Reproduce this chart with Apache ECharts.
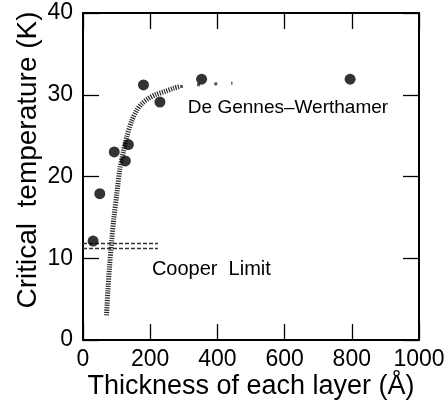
<!DOCTYPE html>
<html>
<head>
<meta charset="utf-8">
<script src="https://cdn.jsdelivr.net/npm/echarts@6/dist/echarts.min.js"></script>
<style>
  html, body { margin: 0; padding: 0; background: #fff; }
  #chart { width: 445px; height: 410px; }
</style>
</head>
<body>
<div id="chart"></div>
<script>
// measured points (thickness in Å, Tc in K)
const pointX = [30, 50, 93, 126, 135, 180, 229, 353, 795];
const pointY = [12.1, 17.9, 23.0, 21.9, 23.9, 31.2, 29.1, 31.9, 31.9];

// De Gennes-Werthamer curve (dense part)
const dgwX = [70, 74, 79, 85, 92, 101, 110, 120, 130, 145, 160, 175, 193, 215, 244, 270, 289];
const dgwY = [3, 6, 9, 12, 15, 18, 21, 23, 24.8, 26.8, 28.1, 28.9, 29.5, 30.0, 30.4, 30.8, 31.0];
// sparse tail of the curve
const dgwTailX = [289, 333, 445];
const dgwTailY = [31.0, 31.2, 31.4];

// Cooper limit band
const cooperX = [0, 223];
const cooperUpper = 11.8;
const cooperLower = 11.2;

const font = "'Liberation Sans', sans-serif";

const chart = echarts.init(document.getElementById('chart'));

const pair = (xs, ys) => xs.map((x, i) => [x, ys[i]]);

const axisCommon = {
  axisLine: { show: true, onZero: false, lineStyle: { color: '#000', width: 2 } },
  axisTick: { show: true, inside: true, length: 16, lineStyle: { color: '#000', width: 1.3 } },
  splitLine: { show: false }
};

function noteLabel(text, size) {
  return {
    show: true, formatter: text, position: 'right', distance: 0,
    color: '#000', fontSize: size, fontFamily: font
  };
}

chart.setOption({
  animation: false,
  backgroundColor: '#fff',
  grid: { left: 83, right: 26, top: 13, bottom: 70, outerBoundsMode: 'none', containLabel: false },
  xAxis: [
    Object.assign({
      type: 'value', min: 0, max: 1000, interval: 200, position: 'bottom',
      axisLabel: { color: '#000', fontSize: 23, fontFamily: font, margin: 8, formatter: v => String(v) }
    }, axisCommon),
    Object.assign({
      type: 'value', min: 0, max: 1000, interval: 200, position: 'top',
      axisLabel: { show: false }
    }, axisCommon)
  ],
  yAxis: [
    Object.assign({
      type: 'value', min: 0, max: 40, interval: 10, position: 'left',
      axisLabel: { color: '#000', fontSize: 23, fontFamily: font, margin: 10 }
    }, axisCommon),
    Object.assign({
      type: 'value', min: 0, max: 40, interval: 10, position: 'right',
      axisLabel: { show: false }
    }, axisCommon)
  ],
  graphic: [
    {
      type: 'text', x: 251, y: 373,
      style: { text: 'Thickness of each layer (Å)', font: '27px ' + font, fill: '#000', align: 'center', verticalAlign: 'top' }
    },
    {
      type: 'text', x: 14, y: 160, rotation: Math.PI / 2,
      style: { text: 'Critical  temperature (K)', font: '28px ' + font, fill: '#000', align: 'center', verticalAlign: 'top' }
    }
  ],
  series: [
    {
      type: 'line', data: pair(dgwX, dgwY), smooth: 0.3, symbol: 'none',
      lineStyle: { color: '#2a2a2a', width: 5, type: [1.2, 1.2] }, z: 2
    },
    {
      type: 'line', data: pair(dgwTailX, dgwTailY), smooth: true, symbol: 'none',
      lineStyle: { color: '#555', width: 3, type: [3, 14] }, z: 2
    },
    {
      type: 'line', data: cooperX.map(x => [x, cooperUpper]), symbol: 'none',
      lineStyle: { color: '#333', width: 1.5, type: [4, 2] }, z: 2
    },
    {
      type: 'line', data: cooperX.map(x => [x, cooperLower]), symbol: 'none',
      lineStyle: { color: '#333', width: 1.5, type: [4, 2] }, z: 2,
      markPoint: {
        symbol: 'circle', symbolSize: 0,
        data: [{ coord: [205, 8.6], label: noteLabel('Cooper  Limit', 20) }]
      }
    },
    {
      type: 'scatter', data: pair(pointX, pointY), symbol: 'circle', symbolSize: 11,
      itemStyle: { color: '#000' }, z: 4,
      markPoint: {
        symbol: 'circle', symbolSize: 0,
        data: [{ coord: [312, 28.4], label: noteLabel('De Gennes–Werthamer', 19) }]
      }
    }
  ]
});
</script>
</body>
</html>
